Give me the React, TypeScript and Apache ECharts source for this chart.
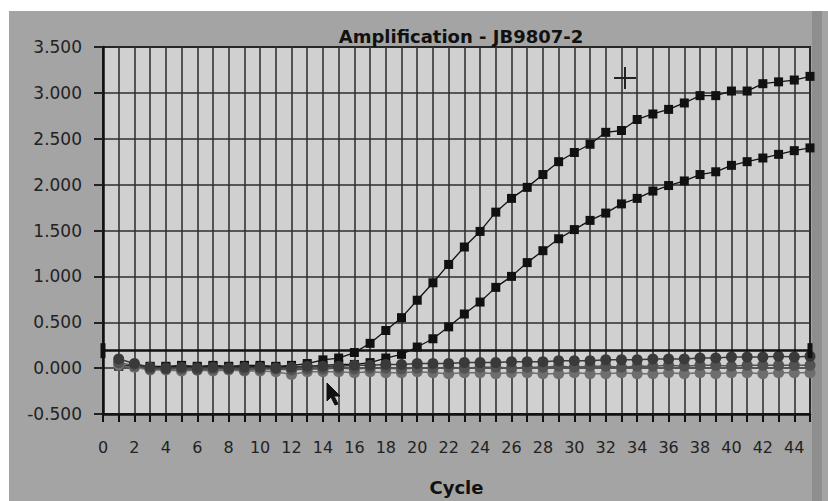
import React, { useEffect, useRef } from "react";
import * as echarts from "echarts";

const cycles = [1,2,3,4,5,6,7,8,9,10,11,12,13,14,15,16,17,18,19,20,21,22,23,24,25,26,27,28,29,30,31,32,33,34,35,36,37,38,39,40,41,42,43,44,45];

const upperCurve = [0.03,0.03,0.02,0.02,0.03,0.02,0.03,0.02,0.03,0.03,0.02,0.03,0.05,0.09,0.11,0.17,0.27,0.41,0.55,0.74,0.93,1.13,1.32,1.49,1.70,1.85,1.97,2.11,2.25,2.35,2.44,2.57,2.59,2.71,2.77,2.82,2.89,2.97,2.97,3.02,3.02,3.10,3.12,3.14,3.18];

const lowerCurve = [0.02,0.02,0.01,0.01,0.02,0.01,0.02,0.01,0.02,0.02,0.01,0.02,0.02,0.03,0.04,0.04,0.06,0.11,0.15,0.23,0.32,0.45,0.59,0.72,0.88,1.00,1.15,1.28,1.41,1.51,1.61,1.69,1.79,1.85,1.93,1.99,2.04,2.11,2.14,2.21,2.25,2.29,2.33,2.37,2.40];

const baselineA = [0.10,0.05,0.01,0.00,0.01,0.00,0.01,0.00,0.01,0.01,0.00,0.01,0.02,0.02,0.02,0.03,0.03,0.04,0.04,0.05,0.05,0.05,0.06,0.06,0.06,0.07,0.07,0.07,0.08,0.08,0.08,0.09,0.09,0.09,0.10,0.10,0.10,0.11,0.11,0.12,0.12,0.12,0.13,0.12,0.13];

const baselineB = [0.06,0.03,-0.01,-0.01,-0.01,-0.02,-0.01,-0.01,-0.02,-0.01,-0.01,-0.02,-0.01,-0.01,0.00,-0.01,0.00,0.00,-0.01,0.00,0.00,0.01,0.00,0.01,0.01,0.00,0.01,0.01,0.02,0.01,0.02,0.02,0.01,0.02,0.02,0.03,0.02,0.03,0.03,0.02,0.03,0.03,0.03,0.03,0.03];

const baselineC = [0.03,0.01,-0.02,-0.02,-0.03,-0.02,-0.03,-0.02,-0.03,-0.03,-0.04,-0.07,-0.04,-0.04,-0.04,-0.05,-0.04,-0.05,-0.05,-0.04,-0.05,-0.06,-0.05,-0.05,-0.06,-0.05,-0.05,-0.06,-0.06,-0.05,-0.06,-0.06,-0.05,-0.06,-0.06,-0.05,-0.06,-0.05,-0.06,-0.05,-0.05,-0.06,-0.05,-0.05,-0.05];

const threshold = 0.19;
const xTickLabels = ["0","2","4","6","8","10","12","14","16","18","20","22","24","26","28","30","32","34","36","38","40","42","44"];
const yMin = -0.5;
const yMax = 3.5;
const yStep = 0.5;
const xMax = 45;

const pairs = (vals: number[]) => cycles.map((c, i) => [c, vals[i]]);

export default function App() {
  const ref = useRef<HTMLDivElement>(null);
  useEffect(() => {
    if (!ref.current) return;
    const chart = echarts.init(ref.current, null, { renderer: "svg" });
    const squareSeries = (name: string, vals: number[], extra: any = {}) => ({
      name,
      type: "line",
      data: pairs(vals),
      symbol: "rect",
      symbolSize: 9,
      itemStyle: { color: "#111" },
      lineStyle: { color: "#111", width: 1.3 },
      z: 3,
      ...extra,
    });
    const circleSeries = (name: string, vals: number[], color: string) => ({
      name,
      type: "line",
      data: pairs(vals),
      symbol: "circle",
      symbolSize: 11,
      itemStyle: { color },
      lineStyle: { color, width: 1.5 },
      z: 4,
    });
    chart.setOption({
      animation: false,
      backgroundColor: "#ffffff",
      title: {
        text: "Amplification - JB9807-2",
        left: 456,
        top: 22,
        textAlign: "center",
        textStyle: { fontFamily: "DejaVu Sans", fontWeight: "bold", fontSize: 18, color: "#111" },
      },
      graphic: [
        { type: "rect", z: -100, shape: { x: 9, y: 11, width: 819, height: 490 }, style: { fill: "#a4a4a4" } },
        { type: "rect", z: -99, shape: { x: 812, y: 11, width: 10, height: 490 }, style: { fill: "#8e8e8e" } },
        { type: "line", z: 100, shape: { x1: 625, y1: 67, x2: 625, y2: 89 }, style: { stroke: "#222", lineWidth: 2 } },
        { type: "line", z: 100, shape: { x1: 614, y1: 78, x2: 636, y2: 78 }, style: { stroke: "#222", lineWidth: 2 } },
        {
          type: "polygon", z: 100,
          shape: { points: [[327, 383], [327, 401], [331, 397], [335, 405], [338, 404], [334, 396], [340, 396]] },
          style: { fill: "#111", stroke: "#111", lineWidth: 1 },
        },
      ],
      grid: {
        left: 103, top: 47, right: 18, bottom: 83,
        show: true, backgroundColor: "#d0d0d0", borderColor: "#111", borderWidth: 2,
      },
      xAxis: {
        type: "value", min: 0, max: xMax, interval: 1,
        name: "Cycle", nameLocation: "middle", nameGap: 64,
        nameTextStyle: { fontFamily: "DejaVu Sans", fontWeight: "bold", fontSize: 18, color: "#111" },
        axisLine: { show: true, onZero: false, lineStyle: { color: "#111", width: 2.5 } },
        axisTick: { show: true, length: 8, lineStyle: { color: "#111", width: 2 } },
        axisLabel: {
          margin: 25, fontFamily: "DejaVu Sans", fontSize: 16, color: "#222",
          formatter: (v: number) => (xTickLabels.includes(String(v)) ? String(v) : ""),
        },
        splitLine: { show: true, lineStyle: { color: "#333", width: 1.6 } },
      },
      yAxis: {
        type: "value", min: yMin, max: yMax, interval: yStep,
        axisLine: { show: true, onZero: false, lineStyle: { color: "#111", width: 2.5 } },
        axisTick: { show: true, length: 9, lineStyle: { color: "#222", width: 2 } },
        axisLabel: {
          margin: 21, fontFamily: "DejaVu Sans", fontSize: 17, color: "#222",
          formatter: (v: number) => v.toFixed(3),
        },
        splitLine: { show: true, lineStyle: { color: "#2e2e2e", width: 1.6 } },
      },
      series: [
        squareSeries("Sample 1", upperCurve, {
          markLine: {
            silent: true,
            symbol: ["rect", "rect"],
            symbolSize: [15, 5],
            label: { show: false },
            lineStyle: { color: "#111", width: 2.5, type: "solid" },
            data: [{ yAxis: threshold }],
          },
        }),
        squareSeries("Sample 2", lowerCurve),
        circleSeries("Control C", baselineC, "#6e6e6e"),
        circleSeries("Control B", baselineB, "#525252"),
        circleSeries("Control A", baselineA, "#3a3a3a"),
      ],
    });
    return () => chart.dispose();
  }, []);
  return <div ref={ref} style={{ position: "fixed", left: 0, top: 0, width: 828, height: 501 }} />;
}
